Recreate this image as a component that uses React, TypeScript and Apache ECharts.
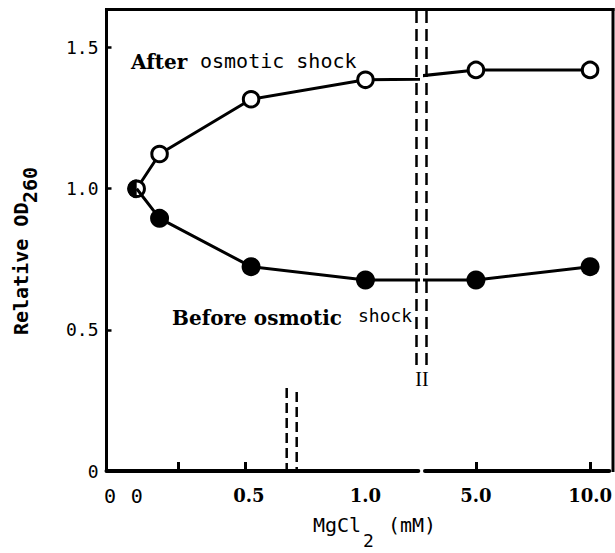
import React, { useEffect, useRef } from "react";
import * as echarts from "echarts";

// ---- data ----
const concX = [0, 0.1, 0.5, 1.0, 5.0, 10.0]; // MgCl2 (mM)
const afterY = [1.0, 1.123, 1.317, 1.386, 1.421, 1.421];
const beforeY = [1.0, 0.895, 0.724, 0.677, 0.677, 0.724];
const yTickValues = [0, 0.5, 1.0, 1.5];
const leftLabelValues = [-0.117, 0, 0.49, 1.0];
const leftLabelTexts = ["{s|0}", "{s|0}", "{b|0.5}", "{b|1.0}"];
const leftTickValues = [0.18, 0.476];
const rightLabelValues = [5, 10];
const rightLabelTexts = ["{b|5.0}", "{b|10.0}"];
const rightTickValues = [5, 10];

// axis ranges of the broken x scale
const LEFT_MIN = -0.132;
const LEFT_MAX = 1.231;
const RIGHT_MIN = 2.768;
const RIGHT_MAX = 10.84;
const Y_MAX = 1.635;

const HALF_DISC = "path://M10 0 A10 10 0 0 0 10 20 Z";

function pick(values: number[], texts: string[], v: number) {
  let best = 0;
  let d = Infinity;
  values.forEach((x, i) => {
    const dd = Math.abs(x - v);
    if (dd < d) {
      d = dd;
      best = i;
    }
  });
  return texts[best];
}

function leftData(ys: number[], halfFirst: boolean) {
  const out: any[] = [];
  for (let i = 0; i < concX.length; i++) {
    if (concX[i] <= LEFT_MAX) {
      const item: any = { value: [concX[i], ys[i]] };
      if (i === 0 && halfFirst) {
        item.symbol = HALF_DISC;
        item.symbolSize = [9.5, 19];
        item.symbolOffset = [-4.75, 0];
      }
      out.push(item);
    } else {
      out.push({ value: [concX[i], ys[i]], symbol: "none" });
      break;
    }
  }
  return out;
}

function rightData(ys: number[]) {
  const out: any[] = [];
  for (let i = 0; i < concX.length; i++) {
    if (concX[i] >= RIGHT_MIN) {
      out.push({ value: [concX[i], ys[i]] });
    } else if (i + 1 < concX.length && concX[i + 1] >= RIGHT_MIN) {
      out.push({ value: [concX[i], ys[i]], symbol: "none" });
    }
  }
  return out;
}

const serifBold = { fontFamily: "DejaVu Serif", fontWeight: "bold" as const, fontSize: 18, color: "#000" };
const monoPlain = { fontFamily: "DejaVu Sans Mono", fontSize: 20, color: "#000" };

export default function App() {
  const ref = useRef<HTMLDivElement>(null);
  useEffect(() => {
    if (!ref.current) return;
    const chart = echarts.init(ref.current, null, { renderer: "svg" });

    const openStyle = {
      type: "line" as const,
      symbol: "circle",
      symbolSize: 15.5,
      clip: true,
      itemStyle: { color: "#fff", borderColor: "#000", borderWidth: 3 },
      lineStyle: { color: "#000", width: 3 },
      z: 3,
    };
    const filledStyle = {
      type: "line" as const,
      symbol: "circle",
      symbolSize: 19,
      clip: true,
      itemStyle: { color: "#000", borderWidth: 0 },
      lineStyle: { color: "#000", width: 3 },
      z: 4,
    };

    const xCommon = {
      type: "value" as const,
      splitLine: { show: false },
      axisLine: { show: true, onZero: false, lineStyle: { color: "#000", width: 4 } },
    };

    const lineEl = (x1: number, y1: number, x2: number, y2: number, w: number, dash?: number[]) => ({
      type: "line",
      shape: { x1, y1, x2, y2 },
      style: { stroke: "#000", lineWidth: w, lineDash: dash },
      z: 10,
    });

    chart.setOption({
      animation: false,
      backgroundColor: "#fff",
      grid: [
        { left: 106.5, top: 9.5, width: 311.8, height: 461.5 },
        { left: 425, top: 9.5, width: 188, height: 461.5 },
      ],
      xAxis: [
        {
          ...xCommon,
          gridIndex: 0,
          min: LEFT_MIN,
          max: LEFT_MAX,
          axisTick: {
            show: true,
            inside: true,
            length: 9,
            customValues: leftTickValues,
            lineStyle: { color: "#000", width: 3 },
          },
          axisLabel: {
            customValues: leftLabelValues,
            margin: 15,
            formatter: (v: number) => pick(leftLabelValues, leftLabelTexts, v),
            rich: { s: monoPlain, b: serifBold },
          },
        },
        {
          ...xCommon,
          gridIndex: 1,
          min: RIGHT_MIN,
          max: RIGHT_MAX,
          axisTick: {
            show: true,
            inside: true,
            length: 9,
            customValues: rightTickValues,
            lineStyle: { color: "#000", width: 3 },
          },
          axisLabel: {
            customValues: rightLabelValues,
            margin: 15,
            formatter: (v: number) => pick(rightLabelValues, rightLabelTexts, v),
            rich: { s: monoPlain, b: serifBold },
          },
        },
      ],
      yAxis: [
        {
          type: "value",
          gridIndex: 0,
          min: 0,
          max: Y_MAX,
          interval: 0.5,
          splitLine: { show: false },
          axisLine: { show: true, onZero: false, lineStyle: { color: "#000", width: 3 } },
          axisTick: {
            show: true,
            inside: true,
            length: 5,
            customValues: yTickValues.slice(1),
            lineStyle: { color: "#000", width: 2.5 },
          },
          axisLabel: {
            customValues: yTickValues,
            margin: 8,
            fontFamily: "DejaVu Sans Mono",
            fontSize: 18,
            color: "#000",
            formatter: (v: number) => (v === 0 ? "0" : v.toFixed(1)),
          },
        },
        {
          type: "value",
          gridIndex: 1,
          min: 0,
          max: Y_MAX,
          show: false,
        },
      ],
      series: [
        { ...openStyle, name: "After osmotic shock", xAxisIndex: 0, yAxisIndex: 0, data: leftData(afterY, false) },
        { ...openStyle, name: "After osmotic shock (high)", xAxisIndex: 1, yAxisIndex: 1, data: rightData(afterY) },
        { ...filledStyle, name: "Before osmotic shock", xAxisIndex: 0, yAxisIndex: 0, data: leftData(beforeY, true) },
        { ...filledStyle, name: "Before osmotic shock (high)", xAxisIndex: 1, yAxisIndex: 1, data: rightData(beforeY) },
      ],
      graphic: [
        lineEl(105, 9.5, 614.5, 9.5, 3),
        lineEl(613, 8, 613, 472, 3),
        lineEl(416.5, 11, 416.5, 369, 2.5, [12, 6]),
        lineEl(426.5, 11, 426.5, 369, 2.5, [12, 6]),
        lineEl(286.7, 388, 286.7, 471, 2.5, [10, 5]),
        lineEl(296.7, 392, 296.7, 471, 2.5, [10, 5]),
        {
          type: "text",
          x: 422,
          y: 379,
          style: { text: "II", fontFamily: "Liberation Serif", fontSize: 20, fill: "#000", align: "center", verticalAlign: "middle" },
          z: 10,
        },
        {
          type: "text",
          x: 131,
          y: 62,
          style: { text: "After", fontFamily: "DejaVu Serif", fontWeight: "bold", fontSize: 20, fill: "#000", align: "left", verticalAlign: "middle" },
          z: 10,
        },
        {
          type: "text",
          x: 200,
          y: 61,
          style: { text: "osmotic shock", fontFamily: "DejaVu Sans Mono", fontSize: 20, fill: "#000", align: "left", verticalAlign: "middle" },
          z: 10,
        },
        {
          type: "text",
          x: 172,
          y: 318,
          style: { text: "Before osmotic", fontFamily: "DejaVu Serif", fontWeight: "bold", fontSize: 20, fill: "#000", align: "left", verticalAlign: "middle" },
          z: 10,
        },
        {
          type: "text",
          x: 358,
          y: 315,
          style: { text: "shock", fontFamily: "DejaVu Sans Mono", fontSize: 18, fill: "#000", align: "left", verticalAlign: "middle" },
          z: 10,
        },
        {
          type: "text",
          x: 21,
          y: 335,
          rotation: Math.PI / 2,
          style: { text: "Relative OD", fontFamily: "DejaVu Sans Mono", fontWeight: "bold", fontSize: 20, fill: "#000", align: "left", verticalAlign: "middle" },
          z: 10,
        },
        {
          type: "text",
          x: 30,
          y: 203,
          rotation: Math.PI / 2,
          style: { text: "260", fontFamily: "DejaVu Sans Mono", fontWeight: "bold", fontSize: 20, fill: "#000", align: "left", verticalAlign: "middle" },
          z: 10,
        },
        {
          type: "text",
          x: 313,
          y: 525,
          style: { text: "MgCl", fontFamily: "DejaVu Sans Mono", fontSize: 20, fill: "#000", align: "left", verticalAlign: "middle" },
          z: 10,
        },
        {
          type: "text",
          x: 363,
          y: 540,
          style: { text: "2", fontFamily: "DejaVu Sans Mono", fontSize: 18, fill: "#000", align: "left", verticalAlign: "middle" },
          z: 10,
        },
        {
          type: "text",
          x: 388,
          y: 525,
          style: { text: "(mM)", fontFamily: "DejaVu Sans Mono", fontSize: 20, fill: "#000", align: "left", verticalAlign: "middle" },
          z: 10,
        },
      ],
    });
    return () => chart.dispose();
  }, []);
  return (
    <div
      ref={ref}
      style={{ position: "fixed", left: 0, top: 0, width: 615, height: 553, background: "#fff" }}
    />
  );
}
